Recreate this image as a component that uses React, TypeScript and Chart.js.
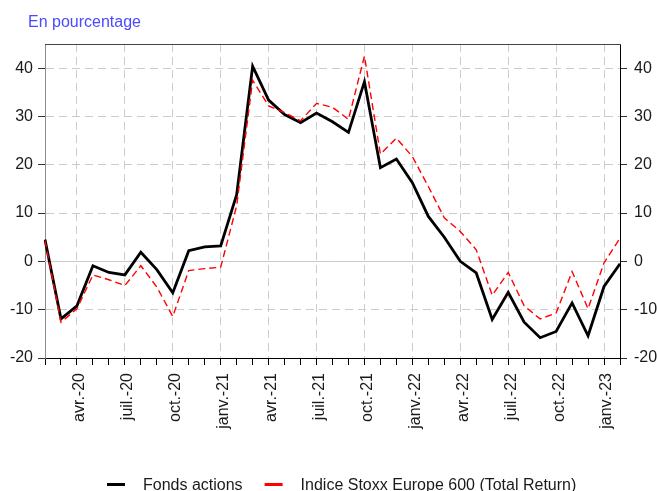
import { useEffect, useRef } from 'react';
import { Chart, registerables } from 'chart.js';

Chart.register(...registerables);

const FONT = '"Liberation Sans", Arial, Helvetica, sans-serif';
const GRID = '#cccccc';
const TEXT = '#1a1a1a';

const titleText = 'En pourcentage';

const months: string[] = [
  'févr.-20', 'mars-20', 'avr.-20', 'mai-20', 'juin-20', 'juil.-20', 'août-20', 'sept.-20', 'oct.-20', 'nov.-20', 'déc.-20',
  'janv.-21', 'févr.-21', 'mars-21', 'avr.-21', 'mai-21', 'juin-21', 'juil.-21', 'août-21', 'sept.-21', 'oct.-21', 'nov.-21', 'déc.-21',
  'janv.-22', 'févr.-22', 'mars-22', 'avr.-22', 'mai-22', 'juin-22', 'juil.-22', 'août-22', 'sept.-22', 'oct.-22', 'nov.-22', 'déc.-22',
  'janv.-23', 'févr.-23',
];

const shownLabels: string[] = [
  'avr.-20', 'juil.-20', 'oct.-20', 'janv.-21', 'avr.-21', 'juil.-21', 'oct.-21',
  'janv.-22', 'avr.-22', 'juil.-22', 'oct.-22', 'janv.-23',
];

const fondsActions: number[] = [
  4.5, -11.9, -9.2, -0.9, -2.3, -2.8, 1.9, -1.7, -6.5, 2.2, 3.0,
  3.2, 13.8, 40.4, 33.4, 30.4, 28.7, 30.7, 28.9, 26.7, 37.2, 19.4, 21.2,
  16.3, 9.3, 5.0, 0.0, -2.4, -12.0, -6.4, -12.6, -15.8, -14.5, -8.6, -15.4,
  -5.2, -0.5,
];

const stoxx600: number[] = [
  4.3, -12.6, -9.8, -2.8, -3.8, -5.0, -0.9, -5.3, -11.4, -1.9, -1.5,
  -1.2, 11.5, 37.5, 32.2, 30.8, 29.1, 32.7, 31.9, 29.4, 42.5, 22.2, 25.5,
  21.7, 15.5, 9.0, 6.2, 2.4, -7.0, -2.3, -9.2, -11.9, -10.7, -2.1, -9.8,
  -0.3, 4.8,
];

const seriesNames: string[] = ['Fonds actions', 'Indice Stoxx Europe 600 (Total Return)'];

const yMin = -20;
const yMax = 45;
const yStep = 10;

const FS = 16;

const decorPlugin = {
  id: 'decor',
  beforeDatasetsDraw(chart: any) {
    const { ctx, chartArea } = chart;
    const y = chart.scales.y.getPixelForValue(0);
    const yy = Math.round(y - 0.5) + 0.5;
    ctx.save();
    ctx.strokeStyle = GRID;
    ctx.lineWidth = 1;
    ctx.setLineDash([]);
    ctx.beginPath();
    ctx.moveTo(chartArea.left, yy);
    ctx.lineTo(chartArea.right, yy);
    ctx.stroke();
    ctx.restore();
  },
  afterDraw(chart: any) {
    const { ctx, chartArea } = chart;
    ctx.save();
    ctx.strokeStyle = '#444444';
    ctx.lineWidth = 1;
    ctx.setLineDash([]);
    ctx.beginPath();
    ctx.moveTo(chartArea.left, chartArea.top + 0.5);
    ctx.lineTo(chartArea.right + 1, chartArea.top + 0.5);
    ctx.stroke();

    ctx.font = `${FS}px ${FONT}`;
    ctx.fillStyle = '#4a4aff';
    ctx.textBaseline = 'alphabetic';
    ctx.textAlign = 'left';
    ctx.fillText(titleText, 28, 26.5);

    let x = 107;
    const y = 484.5;
    chart.data.datasets.forEach((ds: any) => {
      ctx.strokeStyle = ds.borderColor;
      ctx.lineWidth = 3;
      ctx.setLineDash([]);
      ctx.beginPath();
      ctx.moveTo(x, y);
      ctx.lineTo(x + 18, y);
      ctx.stroke();
      ctx.fillStyle = TEXT;
      ctx.fillText(ds.label, x + 36, 489.5);
      x += 36 + ctx.measureText(ds.label).width + 22;
    });
    ctx.restore();
  },
};

export default function App() {
  const ref = useRef<HTMLCanvasElement>(null);
  useEffect(() => {
    const tickFont = { family: FONT, size: FS };
    const chart = new Chart(ref.current as HTMLCanvasElement, {
      type: 'line',
      data: {
        labels: months,
        datasets: [
          {
            label: seriesNames[0],
            data: fondsActions,
            borderColor: '#000000',
            backgroundColor: '#000000',
            borderWidth: 2.8,
            pointRadius: 0,
            tension: 0,
            order: 1,
            yAxisID: 'y',
          },
          {
            label: seriesNames[1],
            data: stoxx600,
            borderColor: '#ff0000',
            backgroundColor: '#ff0000',
            borderWidth: 1.4,
            borderDash: [7, 4],
            pointRadius: 0,
            tension: 0,
            order: 0,
            yAxisID: 'y',
          },
        ],
      },
      options: {
        responsive: false,
        animation: false,
        layout: { padding: { top: 44, left: 0, right: 0, bottom: 0 } },
        plugins: {
          legend: { display: false },
          title: { display: false },
          tooltip: { enabled: false },
        },
        scales: {
          x: {
            type: 'category',
            offset: false,
            afterFit: (s: any) => { s.height = 133; },
            grid: {
              color: (c: any) => (shownLabels.includes(months[c.index]) ? GRID : 'transparent'),
              lineWidth: 1,
              drawTicks: true,
              tickLength: 7,
              tickColor: '#000000',
              tickWidth: 1,
            },
            border: { color: '#000000', width: 1, dash: [8, 5] },
            ticks: {
              autoSkip: false,
              maxRotation: 90,
              minRotation: 90,
              padding: 8,
              labelOffset: 3,
              color: TEXT,
              font: tickFont,
              callback: (_v: any, i: number) => (shownLabels.includes(months[i]) ? months[i] : ''),
            },
          },
          y: {
            position: 'left',
            min: yMin,
            max: yMax,
            afterFit: (s: any) => { s.width = 45; },
            grid: {
              color: (c: any) => (c.tick && c.tick.value === 0 ? 'transparent' : GRID),
              lineWidth: 1,
              tickLength: 7,
              tickColor: '#333333',
            },
            border: { color: '#8c8c8c', width: 1, dash: [8, 5] },
            ticks: { stepSize: yStep, includeBounds: false, padding: 5, color: TEXT, font: tickFont },
          },
          y2: {
            position: 'right',
            min: yMin,
            max: yMax,
            afterFit: (s: any) => { s.width = 38; },
            grid: {
              drawOnChartArea: false,
              color: 'transparent',
              tickLength: 7,
              tickColor: '#333333',
            },
            border: { color: '#000000', width: 1 },
            ticks: { stepSize: yStep, includeBounds: false, padding: 7, color: TEXT, font: tickFont },
          },
        },
      } as any,
      plugins: [decorPlugin],
    });
    return () => chart.destroy();
  }, []);
  return (
    <div style={{ position: 'fixed', left: 0, top: 0, width: 658, height: 491, background: '#ffffff' }}>
      <canvas ref={ref} width={658} height={491} style={{ display: 'block' }} />
    </div>
  );
}
